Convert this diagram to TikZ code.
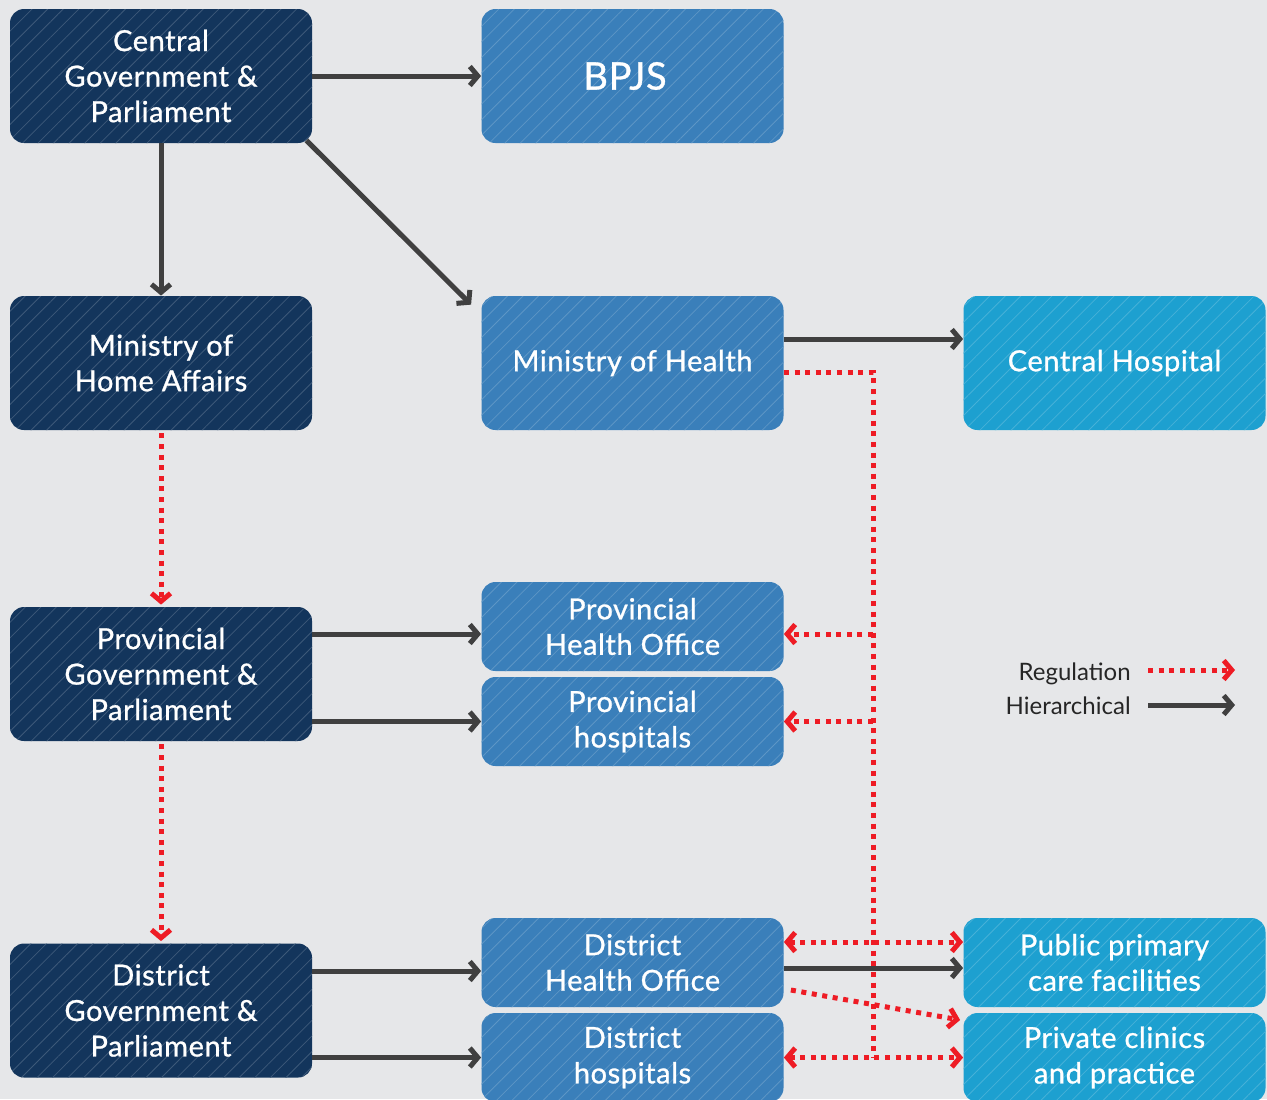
\documentclass[tikz,border=0pt]{standalone}
\usepackage{fontspec}
\setmainfont{Lato}
\newfontfamily\boxfont{Lato}[FakeBold=0.9, LetterSpace=2]
\usetikzlibrary{arrows.meta, patterns.meta}
\definecolor{navy}{HTML}{13355C}
\definecolor{midblue}{HTML}{3A7FBA}
\definecolor{cyanblue}{HTML}{1DA0D0}
\definecolor{bggray}{HTML}{E6E7E9}
\definecolor{regred}{HTML}{EE1C25}
\definecolor{hiergray}{HTML}{404040}
\begin{document}
\begin{tikzpicture}[x=0.5pt, y=-0.5pt]
\tikzstyle{box}=[rounded corners=7pt, text=white, align=center, inner sep=0pt, minimum width=151pt, font=\boxfont\fontsize{14.5}{17.75}\selectfont, postaction={pattern={Lines[angle=45,distance=5.5pt,line width=0.4pt]}}]
\tikzstyle{bigbox}=[box, minimum height=67pt]
\tikzstyle{smallbox}=[box, minimum height=44.5pt]
\tikzstyle{navybox}=[fill=navy, pattern color=navy!82!white]
\tikzstyle{bluebox}=[fill=midblue, pattern color=midblue!82!white]
\tikzstyle{cyanbox}=[fill=cyanblue, pattern color=cyanblue!82!white]
\tikzstyle{hier}=[hiergray, line width=2.5pt, -{Straight Barb[length=4pt,width=9.5pt]}]
\tikzstyle{regline}=[regred, line width=2.5pt, dash pattern=on 2.5pt off 2.8pt]
\tikzstyle{reg}=[regline, -{Straight Barb[length=4pt,width=9.5pt]}]
\tikzstyle{regboth}=[regline, {Straight Barb[length=4pt,width=9.5pt]}-{Straight Barb[length=4pt,width=9.5pt]}]
\tikzstyle{legend}=[anchor=base east, text=black!85, inner sep=0pt, font=\fontsize{12}{14}\selectfont]
\fill[bggray] (0,0) rectangle (1267,1099);
\useasboundingbox (0,0) rectangle (1267,1099);
\node[bigbox, navybox] (cgov) at (161,76) {Central\\Government \&\\Parliament};
\node[bigbox, bluebox, font=\boxfont\fontsize{19}{22}\selectfont] (bpjs) at (632.5,76) {BPJS\kern7.5pt};
\node[bigbox, navybox] (mohome) at (161,363) {Ministry of\\Home Affairs};
\node[bigbox, bluebox] (mohealth) at (632.5,363) {Ministry of Health};
\node[bigbox, cyanbox] (chosp) at (1114.5,363) {Central Hospital};
\node[bigbox, navybox] (pgov) at (161,674) {Provincial\\Government \&\\Parliament};
\node[smallbox, bluebox] (pho) at (632.5,626.5) {Provincial\\Health Office};
\node[smallbox, bluebox] (phosp) at (632.5,721.5) {Provincial\\hospitals};
\node[bigbox, navybox] (dgov) at (161,1010.5) {District\\Government \&\\Parliament};
\node[smallbox, bluebox] (dho) at (632.5,962.5) {District\\Health Office};
\node[smallbox, bluebox] (dhosp) at (632.5,1057.5) {District\\hospitals};
\node[smallbox, cyanbox] (ppcf) at (1114.5,962.5) {Public primary\\care facilities};
\node[smallbox, cyanbox] (pclin) at (1114.5,1057.5) {Private clinics\\and practice};
\coordinate (spine) at (873,0);
\draw[hier] (cgov) -- (bpjs);
\draw[hier] (cgov) -- (mohome);
\draw[hier] ([shift={(-3pt,1.5pt)}]cgov.south east) -- ([shift={(-5pt,-4.5pt)}]mohealth.north west);
\draw[hier] ([yshift=12pt]mohealth.east) -- ([yshift=12pt]chosp.west);
\draw[regline] ([yshift=-4.5pt]mohealth.east) -| (spine |- dhosp.east);
\draw[reg] (spine |- pho.east) ++(0,7.5) -- ([yshift=-3.75pt]pho.east);
\draw[reg] (spine |- phosp.east) -- (phosp.east);
\draw[reg, shorten <=1.5pt, shorten >=1pt] (mohome.south) -- (pgov.north);
\draw[reg, shorten <=1.5pt, shorten >=1pt] (pgov.south) -- (dgov.north);
\draw[hier] ([yshift=-3.75pt]pgov.east |- pho.west) -- ([yshift=-3.75pt]pho.west);
\draw[hier] (pgov.east |- phosp.west) -- (phosp.west);
\draw[hier] ([yshift=-4.25pt]dgov.east |- dho.west) -- ([yshift=-4.25pt]dho.west);
\draw[hier] (dgov.east |- dhosp.west) -- (dhosp.west);
\draw[regboth] ([yshift=10.25pt]dho.east) -- ([yshift=10.25pt]ppcf.west);
\draw[hier] ([yshift=-2.75pt]dho.east) -- ([yshift=-2.75pt]ppcf.west);
\draw[reg] ([shift={(3.5pt,-13.75pt)}]dho.east) -- ([shift={(-1.5pt,18.75pt)}]pclin.west);
\draw[regboth] (dhosp.east) -- (pclin.west);
\node[legend] (regtxt) at (1131,680) {Regulation};
\node[legend] (hiertxt) at (1131,714) {Hierarchical};
\coordinate (regA) at (1148,670);
\coordinate (regB) at (1235,670);
\coordinate (hierA) at (1148,705);
\coordinate (hierB) at (1235,705);
\draw[reg] (regA) -- (regB);
\draw[hier] (hierA) -- (hierB);
\end{tikzpicture}
\end{document}
